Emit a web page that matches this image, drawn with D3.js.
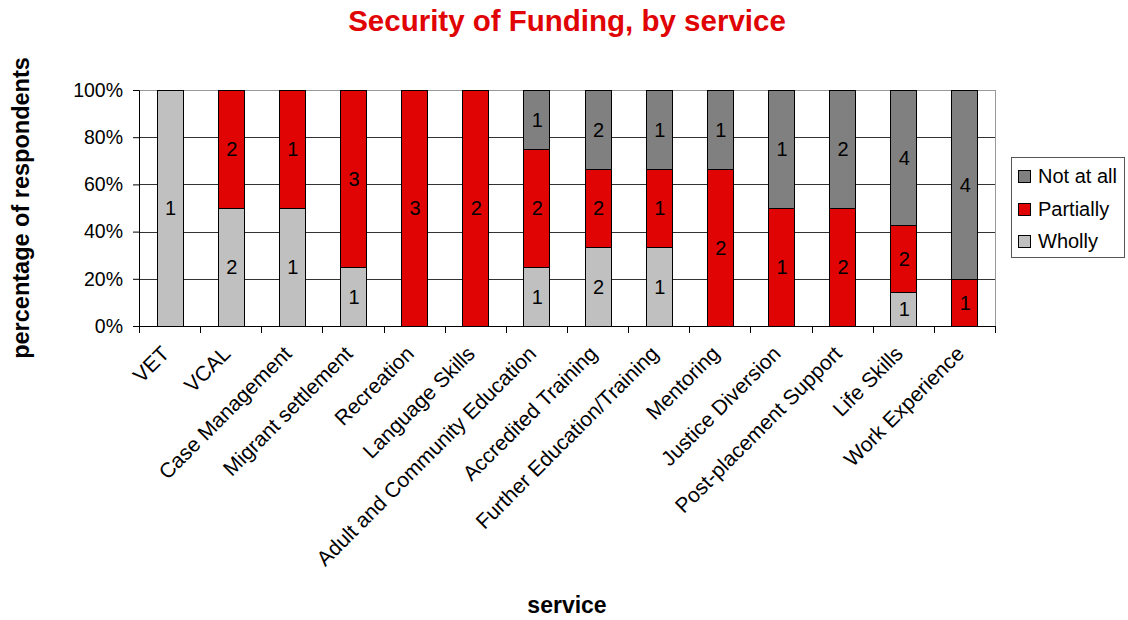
<!DOCTYPE html>
<html>
<head>
<meta charset="utf-8">
<script src="https://cdn.jsdelivr.net/npm/d3@7"></script>
<style>
  html, body { margin: 0; padding: 0; background: #fff; }
  svg { display: block; font-family: "Liberation Sans", Arial, sans-serif; }
</style>
</head>
<body>
<svg id="chart" width="1128" height="620"></svg>
<script>
// Services surveyed
const services = [
  "VET", "VCAL", "Case Management", "Migrant settlement", "Recreation",
  "Language Skills", "Adult and Community Education", "Accredited Training",
  "Further Education/Training", "Mentoring", "Justice Diversion",
  "Post-placement Support", "Life Skills", "Work Experience"
];

// Respondent counts per funding level
const wholly    = [1, 2, 1, 1, 0, 0, 1, 2, 1, 0, 0, 0, 1, 0];
const partially = [0, 2, 1, 3, 3, 2, 2, 2, 1, 2, 1, 2, 2, 1];
const notAtAll  = [0, 0, 0, 0, 0, 0, 1, 2, 1, 1, 1, 2, 4, 4];

const seriesNames = ["Wholly", "Partially", "Not at all"];
const seriesColors = ["#C0C0C0", "#E00404", "#808080"];
const yTicks = [0, 0.2, 0.4, 0.6, 0.8, 1.0];

const rows = services.map((s, i) => ({
  service: s,
  "Wholly": wholly[i],
  "Partially": partially[i],
  "Not at all": notAtAll[i]
}));

const margin = { left: 139, right: 133, top: 90, bottom: 294 };
const W = 1128, H = 620;
const plotW = W - margin.left - margin.right;
const plotH = H - margin.top - margin.bottom;

const svg = d3.select("#chart");
const g = svg.append("g").attr("transform", `translate(${margin.left},${margin.top})`);

const x = d3.scaleBand().domain(services).range([0, plotW]).paddingInner(0.575).paddingOuter(0.2875);
const y = d3.scaleLinear().domain([0, 1]).range([plotH, 0]);

// Gridlines
g.selectAll("line.grid").data(yTicks.filter(t => t > 0 && t < 1)).join("line")
  .attr("class", "grid")
  .attr("x1", 0).attr("x2", plotW)
  .attr("y1", d => Math.round(y(d)) + 0.5).attr("y2", d => Math.round(y(d)) + 0.5)
  .attr("stroke", "#333").attr("stroke-width", 1);

// Top and right frame
g.append("line").attr("x1", 0).attr("x2", plotW).attr("y1", 0.5).attr("y2", 0.5)
  .attr("stroke", "#999");
g.append("line").attr("x1", plotW + 0.5).attr("x2", plotW + 0.5).attr("y1", 0).attr("y2", plotH)
  .attr("stroke", "#999");

// Stacked percentages
const stack = d3.stack().keys(seriesNames).offset(d3.stackOffsetExpand);
const stacked = stack(rows);

const layers = g.selectAll("g.layer").data(stacked).join("g")
  .attr("class", "layer")
  .attr("fill", (d, i) => seriesColors[i]);

layers.selectAll("rect").data(d => d.filter(p => p[1] - p[0] > 0)).join("rect")
  .attr("x", d => Math.round(x(d.data.service)) + 0.5)
  .attr("width", Math.round(x.bandwidth()))
  .attr("y", d => Math.round(y(d[1])) + 0.5)
  .attr("height", d => Math.round(y(d[0])) - Math.round(y(d[1])))
  .attr("stroke", "#000").attr("stroke-width", 1);

// Count labels inside segments
stacked.forEach(layer => {
  const key = layer.key;
  g.selectAll(null).data(layer.filter(p => p.data[key] > 0)).join("text")
    .attr("x", d => x(d.data.service) + x.bandwidth() / 2 + 1)
    .attr("y", d => (y(d[0]) + y(d[1])) / 2)
    .attr("dy", "0.36em")
    .attr("text-anchor", "middle")
    .attr("font-size", "20px")
    .attr("fill", "#000")
    .text(d => d.data[key]);
});

// Y axis
const yAxis = d3.axisLeft(y).tickValues(yTicks).tickFormat(d3.format(".0%")).tickSize(6).tickPadding(10);
const yg = g.append("g").call(yAxis);
yg.select(".domain").attr("stroke", "#000");
yg.selectAll(".tick line").attr("stroke", "#000");
yg.selectAll(".tick text").attr("font-size", "19.5px").attr("fill", "#000")
  .attr("font-family", "Liberation Sans, Arial, sans-serif");

// X axis baseline with ticks at category boundaries
const boundaries = d3.range(services.length + 1).map(i => i * plotW / services.length);
g.append("line").attr("x1", 0).attr("x2", plotW).attr("y1", plotH + 0.5).attr("y2", plotH + 0.5)
  .attr("stroke", "#000");
g.selectAll("line.xtick").data(boundaries).join("line")
  .attr("class", "xtick")
  .attr("x1", d => Math.round(d) + 0.5).attr("x2", d => Math.round(d) + 0.5)
  .attr("y1", plotH).attr("y2", plotH + 7)
  .attr("stroke", "#000");

// Rotated category labels
g.selectAll("text.xlab").data(services).join("text")
  .attr("class", "xlab")
  .attr("transform", d => `translate(${x(d) + x.bandwidth() / 2 + 1},${plotH + 29}) rotate(-45)`)
  .attr("text-anchor", "end")
  .attr("font-size", "21px")
  .attr("fill", "#000")
  .text(d => d);

// Title
svg.append("text")
  .attr("x", margin.left + plotW / 2).attr("y", 31)
  .attr("text-anchor", "middle")
  .attr("font-size", "29.5px").attr("font-weight", "bold")
  .attr("fill", "#E00404")
  .text("Security of Funding, by service");

// Axis titles
svg.append("text")
  .attr("transform", `translate(29,${margin.top + plotH / 2}) rotate(-90)`)
  .attr("text-anchor", "middle")
  .attr("font-size", "23.5px").attr("font-weight", "bold")
  .attr("fill", "#000")
  .text("percentage of respondents");

svg.append("text")
  .attr("x", margin.left + plotW / 2).attr("y", 613)
  .attr("text-anchor", "middle")
  .attr("font-size", "23px").attr("font-weight", "bold")
  .attr("fill", "#000")
  .text("service");

// Legend
const legend = svg.append("g").attr("transform", "translate(1011,157)");
legend.append("rect").attr("x", 0.5).attr("y", 0.5).attr("width", 113).attr("height", 100)
  .attr("fill", "#fff").attr("stroke", "#555");
const legendOrder = [2, 1, 0];
legendOrder.forEach((si, row) => {
  const cy = 19 + row * 32.5;
  legend.append("rect")
    .attr("x", 7.5).attr("y", Math.round(cy - 6) + 0.5).attr("width", 12).attr("height", 12)
    .attr("fill", seriesColors[si]).attr("stroke", "#000");
  legend.append("text")
    .attr("x", 27).attr("y", cy).attr("dy", "0.36em")
    .attr("font-size", "20px").attr("fill", "#000")
    .text(seriesNames[si]);
});
</script>
</body>
</html>
